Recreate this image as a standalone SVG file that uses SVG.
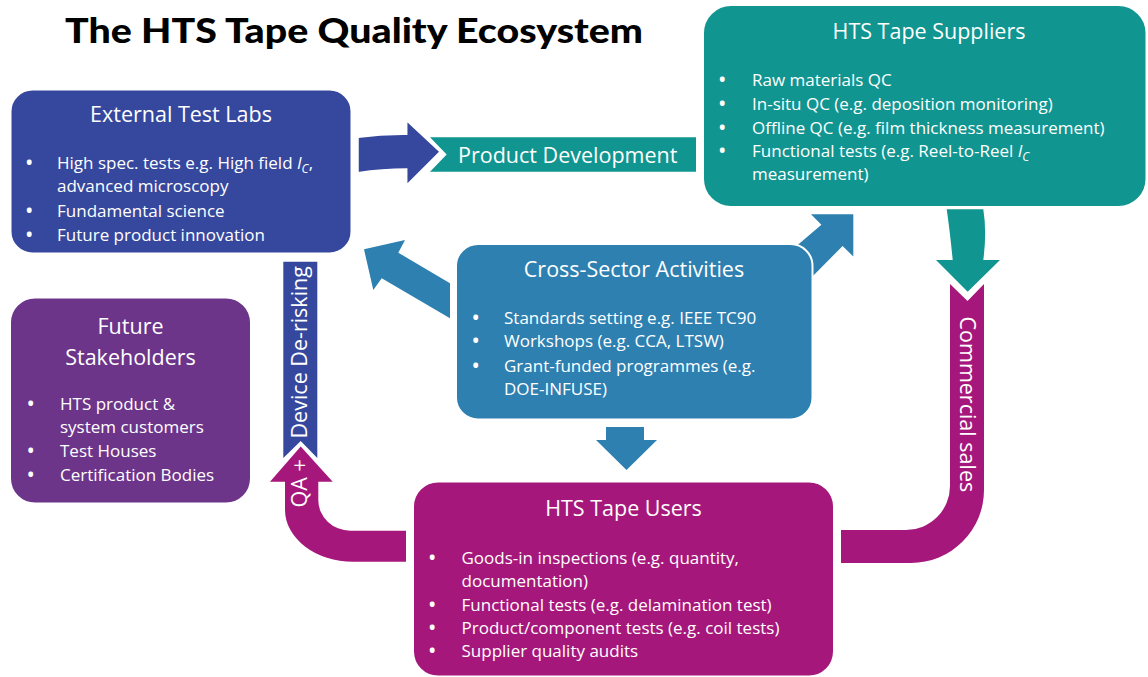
<svg xmlns="http://www.w3.org/2000/svg" width="1148" height="677" viewBox="0 0 1148 677">
  <style>
    .box { stroke: #ffffff; stroke-width: 2; }
    .arrow { stroke: #ffffff; stroke-width: 1.5; stroke-linejoin: miter; }
    .title { font-family: "Open Sans", "Liberation Sans", sans-serif; font-size: 21.5px; fill: #ffffff; text-anchor: middle; }
    .item { font-family: "Open Sans", "Liberation Sans", sans-serif; font-size: 17px; fill: #ffffff; }
    .dot { font-weight: 700; }
    .band { font-family: "Open Sans", "Liberation Sans", sans-serif; font-size: 21.5px; fill: #ffffff; }
    .blue { fill: #36489d; }
    .teal { fill: #109590; }
    .sky { fill: #2e80b1; }
    .violet { fill: #6c358a; }
    .magenta { fill: #a6177b; }
  </style>

  <rect width="1148" height="677" fill="#ffffff"/>

  <text x="65" y="43" font-family="Lato, 'Open Sans', sans-serif" font-weight="900" font-size="35" fill="#000000" textLength="578" lengthAdjust="spacingAndGlyphs">The HTS Tape Quality Ecosystem</text>

  <!-- connectors -->
  <g id="connectors">
    <!-- Product Development: blue arrow into teal band -->
    <path class="blue arrow" d="M358,137.3 Q382,134 406.7,134.3 L406.7,120.7 L440,151.7 L406.7,185 L406.7,169 Q382,169 358,172.7 Z"/>
    <path class="teal" d="M430,137.3 L696,137.3 L696,171.7 L430,171.7 L446.7,154.5 Z"/>
    <text class="band" x="458" y="162.7" font-size="22.5">Product Development</text>

    <!-- Suppliers down into commercial sales -->
    <path class="teal" d="M946.7,209.3 L983.3,209.3 Q987,232 983.3,260 L1000,260 L967.7,291.7 L936,260 L952.7,260 Q950,232 946.7,209.3 Z"/>
    <path class="magenta" d="M950,284 L967.5,301 L984,284 L984,490 A73,73 0 0 1 911,563 L841,563 L841,530 L906,530 A44,44 0 0 0 950,486 Z"/>
    <text class="band" transform="translate(960,316.5) rotate(90)">Commercial sales</text>

    <!-- Users back up to external test labs -->
    <path class="magenta" d="M406,561.7 L353,561.7 A68,52 0 0 1 285,509.7 L285,481.7 L270,481.7 L300.7,446.5 L332.7,481.7 L318.3,481.7 L318.3,500 A32,30.7 0 0 0 350.3,530.7 L406,530.7 Z"/>
    <path class="blue" d="M283.3,261.7 L317.3,261.7 L317.3,458 L300.7,441 L283.3,458 Z"/>
    <text class="band" transform="translate(306.5,507.5) rotate(-90)">QA +</text>
    <text class="band" transform="translate(306.5,438.5) rotate(-90)">Device De-risking</text>

    <!-- Cross-sector outputs -->
    <path class="sky" d="M364,249.3 L405,240 L398.3,252.7 L450,283.3 L450,318.3 L381.7,278.3 L373.3,290 Z"/>
    <path class="sky" d="M853.3,214.3 L853.3,256.5 L842.6,246 L805,284 L780,260 L821.4,224.8 L811,214.3 Z"/>
    <path class="sky" d="M606,427 L644,427 L644,440 L657,440 L626.5,470 L596,440 L606,440 Z"/>
  </g>

  <g id="external-test-labs">
    <rect class="blue box" x="10.5" y="89.5" width="341" height="164" rx="22"/>
    <text class="title" x="181" y="122">External Test Labs</text>
    <text class="item" y="169"><tspan class="dot" x="26">•</tspan><tspan x="57">High spec. tests e.g. High field </tspan><tspan font-style="italic">I</tspan><tspan font-style="italic" font-size="12" dy="4">C</tspan><tspan dy="-4">,</tspan></text>
    <text class="item" x="57" y="192">advanced microscopy</text>
    <text class="item" y="216.5"><tspan class="dot" x="26">•</tspan><tspan x="57">Fundamental science</tspan></text>
    <text class="item" y="240.5"><tspan class="dot" x="26">•</tspan><tspan x="57">Future product innovation</tspan></text>
  </g>

  <g id="hts-tape-suppliers">
    <rect class="teal box" x="703" y="5" width="443.5" height="202" rx="28"/>
    <text class="title" x="929" y="39">HTS Tape Suppliers</text>
    <text class="item" y="86"><tspan class="dot" x="719">•</tspan><tspan x="752">Raw materials QC</tspan></text>
    <text class="item" y="110"><tspan class="dot" x="719">•</tspan><tspan x="752">In-situ QC (e.g. deposition monitoring)</tspan></text>
    <text class="item" y="134"><tspan class="dot" x="719">•</tspan><tspan x="752">Offline QC (e.g. film thickness measurement)</tspan></text>
    <text class="item" y="157"><tspan class="dot" x="719">•</tspan><tspan x="752">Functional tests (e.g. Reel-to-Reel </tspan><tspan font-style="italic">I</tspan><tspan font-style="italic" font-size="12" dy="4">C</tspan></text>
    <text class="item" x="752" y="180">measurement)</text>
  </g>

  <g id="cross-sector-activities">
    <rect class="sky box" x="456" y="244" width="356.5" height="175.5" rx="22"/>
    <text class="title" x="634" y="277">Cross-Sector Activities</text>
    <text class="item" y="323.5"><tspan class="dot" x="472.5">•</tspan><tspan x="504">Standards setting e.g. IEEE TC90</tspan></text>
    <text class="item" y="347"><tspan class="dot" x="472.5">•</tspan><tspan x="504">Workshops (e.g. CCA, LTSW)</tspan></text>
    <text class="item" y="371.5"><tspan class="dot" x="472.5">•</tspan><tspan x="504">Grant-funded programmes (e.g.</tspan></text>
    <text class="item" x="504" y="395">DOE-INFUSE)</text>
  </g>

  <g id="future-stakeholders">
    <rect class="violet box" x="10" y="297.5" width="241" height="206" rx="25"/>
    <text class="title" x="130.5" y="333.5">Future</text>
    <text class="title" x="130.5" y="365">Stakeholders</text>
    <text class="item" y="409.5"><tspan class="dot" x="27.5">•</tspan><tspan x="60">HTS product &amp;</tspan></text>
    <text class="item" x="60" y="433">system customers</text>
    <text class="item" y="457"><tspan class="dot" x="27.5">•</tspan><tspan x="60">Test Houses</tspan></text>
    <text class="item" y="480.5"><tspan class="dot" x="27.5">•</tspan><tspan x="60">Certification Bodies</tspan></text>
  </g>

  <g id="hts-tape-users">
    <rect class="magenta box" x="413" y="481.5" width="421" height="195" rx="25"/>
    <text class="title" x="623.5" y="516">HTS Tape Users</text>
    <text class="item" y="563.5"><tspan class="dot" x="429">•</tspan><tspan x="461.5">Goods-in inspections (e.g. quantity,</tspan></text>
    <text class="item" x="461.5" y="586.5">documentation)</text>
    <text class="item" y="610.5"><tspan class="dot" x="429">•</tspan><tspan x="461.5">Functional tests (e.g. delamination test)</tspan></text>
    <text class="item" y="634"><tspan class="dot" x="429">•</tspan><tspan x="461.5">Product/component tests (e.g. coil tests)</tspan></text>
    <text class="item" y="657"><tspan class="dot" x="429">•</tspan><tspan x="461.5">Supplier quality audits</tspan></text>
  </g>
</svg>
